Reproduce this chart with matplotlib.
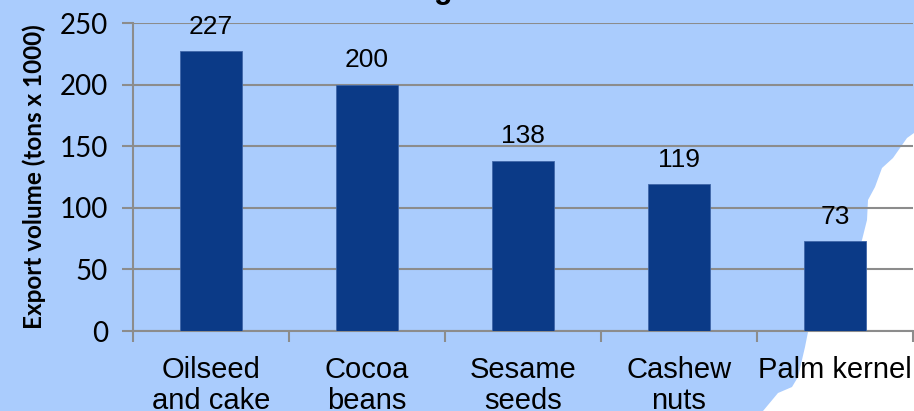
import numpy as np
import matplotlib.pyplot as plt
from matplotlib.patches import Polygon

# data
categories = ["Oilseed\nand cake", "Cocoa\nbeans", "Sesame\nseeds", "Cashew\nnuts", "Palm kernel"]
volumes = [227, 200, 138, 119, 73]

W, H = 914, 411
fig = plt.figure(figsize=(W / 100, H / 100), dpi=100)
fig.patch.set_facecolor("#aaccfd")

# white cut-out of the background map (pixel outline, lower right)
coast = [(914, 133), (907, 138), (893, 158), (882, 168), (875, 187), (868, 200),
         (867, 220), (862, 240), (850, 270), (830, 300), (808, 332), (805, 347),
         (798, 377), (792, 387), (778, 393), (763, 411), (914, 411)]
coast = [(x / W, 1 - y / H) for x, y in coast]
fig.patches.append(Polygon(coast, closed=True, transform=fig.transFigure,
                           facecolor="white", edgecolor="none", zorder=0))

# cropped title, only the descender shows
fig.text(443 / W, 1 + 2 / H, "g", fontsize=22, fontweight="bold",
         ha="center", va="baseline", family="Liberation Sans")

ax = fig.add_axes([133 / W, 1 - 331 / H, 780 / W, 308 / H])
ax.set_facecolor("none")
ax.set_zorder(2)

x = np.arange(len(categories))
bars = ax.bar(x, volumes, width=0.4, color="#0b3a87", edgecolor="#3f66a8",
              linewidth=0.6, zorder=3)
for b, v in zip(bars, volumes):
    ax.annotate(str(v), (b.get_x() + b.get_width() / 2, v), xytext=(0, 9),
                textcoords="offset points", ha="center", va="bottom",
                fontsize=19, family="Liberation Sans")

ax.set_xlim(-0.5, len(categories) - 0.5)
ax.set_ylim(0, 250)
ax.set_yticks(range(0, 251, 50))
ax.yaxis.grid(True, color="#8c8c8c", linewidth=1.5, zorder=1)
ax.set_axisbelow(True)

ax.set_xticks(np.arange(-0.5, len(categories), 1.0), minor=False)
ax.set_xticklabels([])
ax.set_xticks(x, minor=True)
ax.set_xticklabels(categories, minor=True, fontsize=21, family="Liberation Sans",
                   linespacing=1.15)
ax.tick_params(axis="x", which="minor", length=0, pad=18)
ax.tick_params(axis="x", which="major", length=8, width=1.5, color="#8c8c8c")
ax.tick_params(axis="y", length=8, width=1.5, color="#8c8c8c", pad=10)
for lab in ax.get_yticklabels():
    lab.set_fontfamily("Lato")
    lab.set_fontsize(20)

for s in ["top", "right"]:
    ax.spines[s].set_visible(False)
for s in ["left", "bottom"]:
    ax.spines[s].set_color("#8c8c8c")
    ax.spines[s].set_linewidth(1.5)

ax.set_ylabel("Export volume (tons x 1000)", fontsize=17.5, fontweight="bold",
              family="Lato", labelpad=10)

fig.savefig("out.png", dpi=100, facecolor=fig.get_facecolor())
